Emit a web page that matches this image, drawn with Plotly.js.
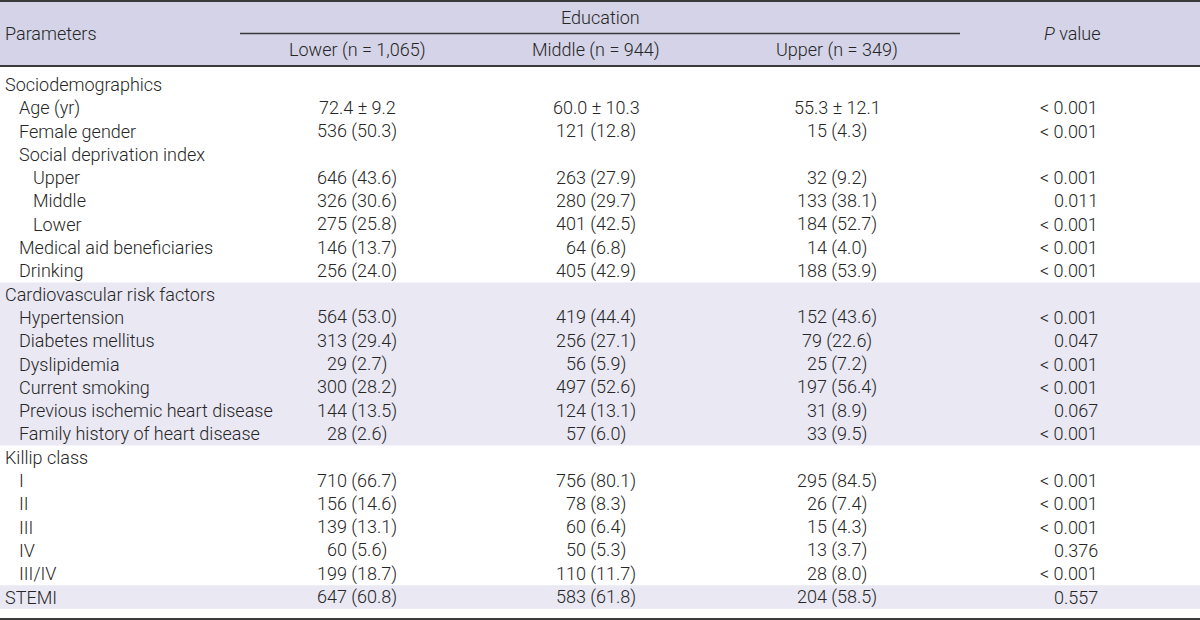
<!DOCTYPE html>
<html>
<head>
<meta charset="utf-8">
<script src="https://cdn.plot.ly/plotly-3.0.1.min.js"></script>
<style>html,body{margin:0;padding:0;background:#fff;}#chart{width:1200px;height:620px;}</style>
</head>
<body>
<div id="chart"></div>
<script>
// ---------- data ----------
const groupTitle = "Education";
const stubTitle = "Parameters";
const pTitle = "<i>P</i> value";
const colHeaders = ["Lower (n = 1,065)", "Middle (n = 944)", "Upper (n = 349)"];

const rowLabels = ["Sociodemographics","Age (yr)","Female gender","Social deprivation index","Upper","Middle","Lower","Medical aid beneficiaries","Drinking","Cardiovascular risk factors","Hypertension","Diabetes mellitus","Dyslipidemia","Current smoking","Previous ischemic heart disease","Family history of heart disease","Killip class","I","II","III","IV","III/IV","STEMI"];
const rowLevel = [0,1,1,1,2,2,2,1,1,0,1,1,1,1,1,1,0,1,1,1,1,1,0];

const lowerVals = ["","72.4 ± 9.2","536 (50.3)","","646 (43.6)","326 (30.6)","275 (25.8)","146 (13.7)","256 (24.0)","","564 (53.0)","313 (29.4)","29 (2.7)","300 (28.2)","144 (13.5)","28 (2.6)","","710 (66.7)","156 (14.6)","139 (13.1)","60 (5.6)","199 (18.7)","647 (60.8)"];
const middleVals = ["","60.0 ± 10.3","121 (12.8)","","263 (27.9)","280 (29.7)","401 (42.5)","64 (6.8)","405 (42.9)","","419 (44.4)","256 (27.1)","56 (5.9)","497 (52.6)","124 (13.1)","57 (6.0)","","756 (80.1)","78 (8.3)","60 (6.4)","50 (5.3)","110 (11.7)","583 (61.8)"];
const upperVals = ["","55.3 ± 12.1","15 (4.3)","","32 (9.2)","133 (38.1)","184 (52.7)","14 (4.0)","188 (53.9)","","152 (43.6)","79 (22.6)","25 (7.2)","197 (56.4)","31 (8.9)","33 (9.5)","","295 (84.5)","26 (7.4)","15 (4.3)","13 (3.7)","28 (8.0)","204 (58.5)"];
const pValues = ["","< 0.001","< 0.001","","< 0.001","0.011","< 0.001","< 0.001","< 0.001","","< 0.001","0.047","< 0.001","< 0.001","0.067","< 0.001","","< 0.001","< 0.001","< 0.001","0.376","< 0.001","0.557"];
const shadedGroups = [[9, 15], [22, 22]];

// ---------- layout ----------
const W = 1200, H = 620;
const FONT = "Roboto, 'Liberation Sans', Arial, sans-serif";
const FS = 18;
const TXT = "#262626";
const LINE = "#3a3a3a";
const HEAD_BG = "#d4d3e7";
const SHADE_BG = "#e9e8f3";

const px = v => v / W;          // paper x from pixel
const py = v => 1 - v / H;      // paper y from pixel

const valueCols = [lowerVals, middleVals, upperVals];
const colCenters = [357, 596, 837];
const pRight = 1100;
const indentPx = [3, 17, 31];

const annotations = [];
const base = {showarrow: false, font: {family: FONT, size: FS, color: TXT, weight: 300}, yanchor: "middle"};

// header
annotations.push(Object.assign({}, base, {text: groupTitle, xref: "paper", yref: "paper", x: px(600), y: py(17), xanchor: "center"}));
annotations.push(Object.assign({}, base, {text: stubTitle, xref: "paper", yref: "paper", x: px(3), y: py(33), xanchor: "left"}));
annotations.push(Object.assign({}, base, {text: pTitle, xref: "paper", yref: "paper", x: px(1072), y: py(33), xanchor: "center"}));
colHeaders.forEach((h, j) => annotations.push(Object.assign({}, base, {text: h, xref: "paper", yref: "paper", x: px(colCenters[j]), y: py(50), xanchor: "center"})));

// body
rowLabels.forEach((lab, i) => {
  annotations.push(Object.assign({}, base, {text: lab, xref: "paper", yref: "y", x: px(indentPx[rowLevel[i]]), y: i, xanchor: "left"}));
  valueCols.forEach((col, j) => {
    if (col[i]) annotations.push(Object.assign({}, base, {text: col[i], xref: "paper", yref: "y", x: px(colCenters[j]), y: i, xanchor: "center"}));
  });
  if (pValues[i]) annotations.push(Object.assign({}, base, {text: pValues[i], xref: "paper", yref: "y", x: px(pRight), y: i, xanchor: "right"}));
});

const shapes = [];
shapes.push({type: "rect", xref: "paper", yref: "paper", x0: 0, x1: 1, y0: py(66), y1: 1, fillcolor: HEAD_BG, line: {width: 0}, layer: "below"});
shadedGroups.forEach(g => shapes.push({type: "rect", xref: "paper", yref: "y", x0: 0, x1: 1, y0: g[0] - 0.5, y1: g[1] + 0.5, fillcolor: SHADE_BG, line: {width: 0}, layer: "below"}));
shapes.push({type: "line", xref: "paper", yref: "paper", x0: 0, x1: 1, y0: py(1), y1: py(1), line: {color: LINE, width: 2}});
shapes.push({type: "line", xref: "paper", yref: "paper", x0: px(240), x1: px(960), y0: py(33.5), y1: py(33.5), line: {color: LINE, width: 1.5}});
shapes.push({type: "line", xref: "paper", yref: "paper", x0: 0, x1: 1, y0: py(66), y1: py(66), line: {color: LINE, width: 2}});
shapes.push({type: "line", xref: "paper", yref: "paper", x0: 0, x1: 1, y0: py(619), y1: py(619), line: {color: LINE, width: 2}});

const rowPitch = 23.3, row0 = 84.4;
const layout = {
  width: W, height: H,
  margin: {l: 0, r: 0, t: 0, b: 0, pad: 0},
  paper_bgcolor: "#ffffff", plot_bgcolor: "rgba(0,0,0,0)",
  showlegend: false,
  xaxis: {visible: false, range: [0, 1], fixedrange: true},
  yaxis: {visible: false, range: [(H - row0) / rowPitch, -row0 / rowPitch], fixedrange: true},
  annotations: annotations,
  shapes: shapes
};

Plotly.newPlot("chart", [{type: "scatter", x: [], y: [], hoverinfo: "skip"}], layout, {staticPlot: true, displayModeBar: false});
</script>
</body>
</html>
